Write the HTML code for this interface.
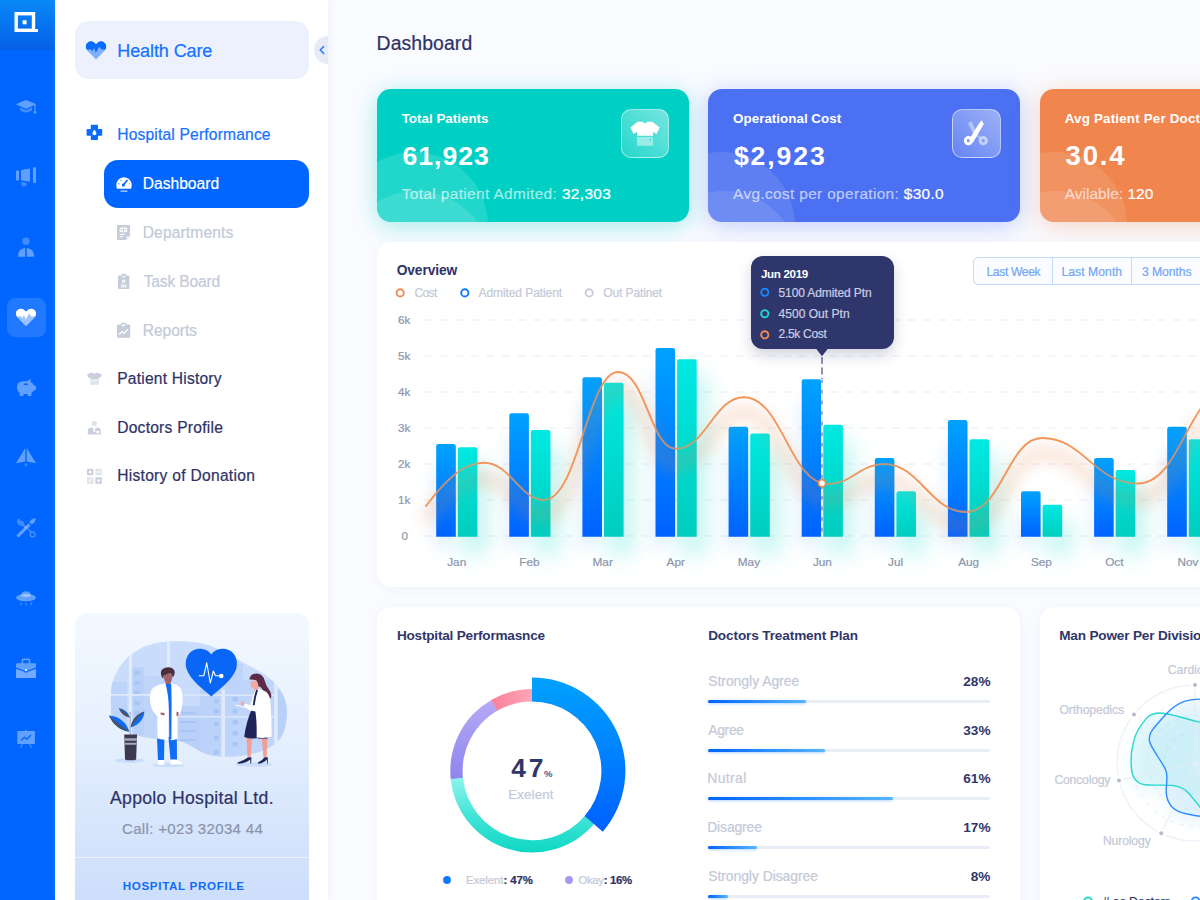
<!DOCTYPE html>
<html><head><meta charset="utf-8"><title>Dashboard</title>
<style>
*{box-sizing:border-box;margin:0;padding:0}
html,body{width:1200px;height:900px;overflow:hidden}
body{font-family:"Liberation Sans",sans-serif;background:#fafbff;position:relative;color:#2e3267}
.a{position:absolute}
.t{position:absolute;white-space:nowrap;line-height:1;-webkit-text-stroke:.22px}
.b{-webkit-text-stroke:0;font-weight:700}
svg{position:absolute;overflow:visible}
</style></head><body>
<div class="a" style="left:0;top:0;width:55px;height:900px;background:#0066ff"></div>
<div class="a" style="left:0;top:0;width:55px;height:50px;background:linear-gradient(180deg,#0888f6 0%,#0672f0 55%,#0560e6 100%)"></div>
<svg style="left:0;top:0" width="55" height="50" viewBox="0 0 55 50">
<rect x="16.2" y="13.7" width="17.3" height="16.6" fill="none" stroke="#fff" stroke-width="3.4"/>
<rect x="22.6" y="20.3" width="4" height="4" fill="#fff"/>
<rect x="35" y="29" width="3" height="3" fill="#fff"/>
</svg>
<svg style="left:0;top:0" width="55" height="900" viewBox="0 0 55 900">
<!-- grad cap -->
<path d="M15.7 104.3 L26 100 L36.3 104.3 L26 108.7 Z" fill="rgba(255,255,255,.38)"/>
<path d="M20 107.3 L26 109.9 L32 107.3 L32 110.6 Q26 114.6 20 110.6 Z" fill="rgba(255,255,255,.25)"/>
<rect x="34.4" y="105" width="1.2" height="5" fill="rgba(255,255,255,.38)"/><rect x="33.9" y="110.6" width="2.2" height="3" fill="rgba(255,255,255,.38)"/>
<!-- megaphone -->
<rect x="16" y="170.4" width="3" height="10" rx=".6" fill="rgba(255,255,255,.38)"/>
<path d="M21 170 L30 168.4 L30 181.8 L21 180.3 Z" fill="rgba(255,255,255,.38)"/>
<rect x="33" y="167.3" width="3" height="15.8" rx=".8" fill="rgba(255,255,255,.38)"/>
<path d="M21 182 L26.5 182.8 L26.5 186 L22 186.6 Z" fill="rgba(255,255,255,.25)"/>
<!-- person -->
<circle cx="26" cy="241.3" r="3.7" fill="rgba(255,255,255,.25)"/>
<path d="M18 256.7 Q18 248.6 25.2 248 L25.2 256.7 Z M26.8 248 Q34 248.6 34 256.7 L26.8 256.7 Z" fill="rgba(255,255,255,.38)"/>
<!-- active box -->
<rect x="7" y="298" width="39" height="39.3" rx="8.5" fill="rgba(255,255,255,.13)"/>
<clipPath id="hc1"><path d="M26 326.2 L17.4 317.4 Q14.8 313.6 17 310.6 Q19.4 307.8 23 309.2 Q25 310.2 26 311.8 Q27 310.2 29 309.2 Q32.6 307.8 35 310.6 Q37.2 313.6 34.6 317.4 Z"/></clipPath>
<g clip-path="url(#hc1)"><rect x="14" y="305" width="24" height="24" fill="rgba(255,255,255,.55)"/>
<path d="M14 304 H38 V316.6 L31.2 316.6 L29 313.6 L25.8 319.8 L24 315 L22.5 318.2 L21.4 316.6 L14 316.6 Z" fill="#fff"/></g>
<!-- piggy -->
<path d="M17 388 Q16 382 23 381.2 L27 381.2 L30.6 379 L30.6 382 Q33.4 383.4 34 385.6 L36 386 L36 389.6 L34 390.2 Q33 392 31.4 393 L31.4 396 L28 396 L27.6 394 L23.6 394 L23.2 396 L19.8 396 L19.6 393 Q17.4 391.4 17 388 Z" fill="rgba(255,255,255,.38)"/>
<rect x="23.6" y="383.6" width="4.4" height="1.3" rx=".6" fill="#0066ff"/>
<!-- plane -->
<path d="M16 463.3 L25.3 448 L25.3 461.6 Z" fill="rgba(255,255,255,.38)"/>
<path d="M36 463.3 L26.7 448 L26.7 461.6 Z" fill="rgba(255,255,255,.38)"/>
<path d="M24.4 463.4 L27.6 463.4 L26 467.4 Z" fill="rgba(255,255,255,.25)"/>
<!-- tools -->
<path d="M16.4 535.6 L28.4 523.6 L30.6 525.8 L18.6 537.6 Z" fill="rgba(255,255,255,.38)"/>
<path d="M29.4 522.6 L31.4 519.4 L36 518 L34.4 522.4 L31.6 524.6 Z" fill="rgba(255,255,255,.38)"/>
<path d="M17 520 L19 518 L21 521 L23.4 521.6 L24.4 524.4 L27.4 527.4 L25.6 529 L22.8 526 L19.4 525.4 L17 523 Z" fill="rgba(255,255,255,.25)"/>
<circle cx="32.6" cy="534.4" r="2.4" fill="none" stroke="rgba(255,255,255,.25)" stroke-width="1.6"/>
<path d="M28 529 L31 532" stroke="rgba(255,255,255,.25)" stroke-width="1.6"/>
<!-- ufo -->
<ellipse cx="26" cy="597.6" rx="10" ry="3.6" fill="rgba(255,255,255,.38)"/>
<path d="M21 596 Q21 591.2 26 591.2 Q31 591.2 31 596 Q26 598 21 596 Z" fill="rgba(255,255,255,.38)"/>
<rect x="20.2" y="602.4" width="1.4" height="2.6" fill="rgba(255,255,255,.25)"/><rect x="25.3" y="603" width="1.4" height="2.4" fill="rgba(255,255,255,.25)"/><rect x="30.4" y="602.4" width="1.4" height="2.6" fill="rgba(255,255,255,.25)"/>
<!-- briefcase -->
<path d="M22.4 663.4 L22.4 660.6 Q22.4 659.4 23.6 659.4 L28.4 659.4 Q29.6 659.4 29.6 660.6 L29.6 663.4" fill="none" stroke="rgba(255,255,255,.38)" stroke-width="1.6"/>
<path d="M16 664.4 Q16 663.2 17.2 663.2 L34.8 663.2 Q36 663.2 36 664.4 L36 667.6 L27.6 670.4 L24.4 670.4 L16 667.6 Z" fill="rgba(255,255,255,.38)"/>
<path d="M16 669 L24.4 671.8 L24.4 672.6 L27.6 672.6 L27.6 671.8 L36 669 L36 678 L16 678 Z" fill="rgba(255,255,255,.45)"/>
<circle cx="26" cy="670.2" r="1.1" fill="#e8f0ff"/>
<!-- board -->
<rect x="25.3" y="729.6" width="1.4" height="2" fill="rgba(255,255,255,.25)"/>
<rect x="17.3" y="731" width="17.6" height="13" rx=".8" fill="rgba(255,255,255,.38)"/>
<path d="M20.6 747.6 L22.4 744 M31.4 747.6 L29.6 744" stroke="rgba(255,255,255,.25)" stroke-width="1.4"/>
<path d="M21 740.4 L24.4 737.4 L27 739.2 L31 735" stroke="#0066ff" stroke-width="1.4" fill="none"/>
</svg>
<div class="a" style="left:55px;top:0;width:273px;height:900px;background:#fff;box-shadow:1px 0 6px rgba(190,200,230,.18)"></div>
<div class="a" style="left:314px;top:36px;width:28px;height:28px;border-radius:14px;background:#e6ebf6;clip-path:inset(0 14px 0 0)"></div>
<svg style="left:316px;top:43px" width="12" height="14" viewBox="0 0 12 14"><path d="M7.6 3.6 L4.2 7 L7.6 10.4" fill="none" stroke="#2f7bff" stroke-width="1.5" stroke-linecap="round" stroke-linejoin="round"/></svg>
<div class="a" style="left:75px;top:21px;width:234px;height:58px;border-radius:14px;background:#edf1fe"></div>
<svg style="left:84px;top:38px" width="24" height="24" viewBox="84 38 24 24">
<clipPath id="hc2"><path d="M96 59.6 L87.2 50.6 Q84.6 46.6 86.8 43.4 Q89.4 40.4 93 41.8 Q95 42.8 96 44.6 Q97 42.8 99 41.8 Q102.6 40.4 105.2 43.4 Q107.4 46.6 104.8 50.6 Z"/></clipPath>
<g clip-path="url(#hc2)"><rect x="84" y="38" width="24" height="24" fill="#7fb0ff"/>
<path d="M84 38 H108 V49.6 L101.4 49.6 L99.2 46.4 L95.8 53 L94 47.8 L92.4 51.4 L91.2 49.6 L84 49.6 Z" fill="#0a6cff"/></g>
</svg>
<div class="t" style="left:117.3px;top:42px;font-size:18px;color:#1672ff;letter-spacing:-0.1px;">Health Care</div>
<svg style="left:86px;top:124px" width="17" height="17" viewBox="86 124 17 17">
<path d="M91.6 124.8 L97.2 124.8 Q98 124.8 98 125.6 L98 129 L101.4 129 Q102.2 129 102.2 129.8 L102.2 135 Q102.2 135.8 101.4 135.8 L98 135.8 L98 139.2 Q98 140 97.2 140 L91.6 140 Q90.8 140 90.8 139.2 L90.8 135.8 L87.4 135.8 Q86.6 135.8 86.6 135 L86.6 129.8 Q86.6 129 87.4 129 L90.8 129 L90.8 125.6 Q90.8 124.8 91.6 124.8 Z" fill="#0a6cff"/>
<path d="M94.4 129.6 Q96.4 132.4 96.4 133.4 Q96.4 135.2 94.4 135.2 Q92.4 135.2 92.4 133.4 Q92.4 132.4 94.4 129.6 Z" fill="#fff"/>
</svg>
<div class="t" style="left:117.2px;top:127px;font-size:15.6px;color:#1672ff;letter-spacing:0.18px;">Hospital Performance</div>
<div class="a" style="left:104px;top:160px;width:205px;height:48px;border-radius:14px;background:#0066ff"></div>
<svg style="left:115px;top:176px" width="18" height="17" viewBox="115 176 18 17">
<path d="M116.6 188 Q115.4 182 119.4 178.8 Q124 175.6 128.6 178.8 Q132.6 182 131.4 188 Q131.2 188.8 130.4 188.8 L117.6 188.8 Q116.8 188.8 116.6 188 Z" fill="#fff"/>
<path d="M123.2 185 L127 180.4" stroke="#0066ff" stroke-width="1.6" stroke-linecap="round"/>
<circle cx="123.4" cy="185" r="1.5" fill="#0066ff"/>
<path d="M118.4 183.6 L119.6 184 M120.6 180 L121.4 181 M128.8 184 L129.6 183.6" stroke="#0066ff" stroke-width=".9"/>
<rect x="120.4" y="190.6" width="7.2" height="1.2" rx=".6" fill="rgba(255,255,255,.75)"/>
</svg>
<div class="t" style="left:142.7px;top:176px;font-size:15.6px;color:#fff;letter-spacing:0.01px;">Dashboard</div>
<svg style="left:116px;top:224px" width="16" height="17" viewBox="116 224 16 17">
<path d="M117.8 225 L129.2 225 Q130 225 130 225.8 L130 236 L126 240 L117.8 240 Q117 240 117 239.2 L117 225.8 Q117 225 117.8 225 Z" fill="#c5ccda"/>
<path d="M126 240 L126 236.6 Q126 236 126.6 236 L130 236 Z" fill="#e3e7f0"/>
<rect x="119.6" y="227.6" width="7.8" height="4.6" rx="1.6" fill="#fff"/><rect x="123.1" y="227.6" width=".8" height="4.6" fill="#c5ccda"/><rect x="119.6" y="229.5" width="7.8" height=".8" fill="#c5ccda"/>
<rect x="119.6" y="234" width="5" height="1" fill="#fff"/><rect x="119.6" y="236.2" width="3.4" height="1" fill="#fff"/>
</svg>
<div class="t" style="left:142.7px;top:225px;font-size:15.6px;color:#c3cad9;letter-spacing:0.13px;">Departments</div>
<svg style="left:117px;top:273px" width="14" height="17" viewBox="117 273 14 17">
<rect x="118" y="275.4" width="11.4" height="13.6" rx="1" fill="#c5ccda"/>
<rect x="121.4" y="273.8" width="4.6" height="3.4" rx=".8" fill="#c5ccda"/>
<rect x="122.2" y="275.8" width="3" height="1.4" fill="#fff"/>
<circle cx="123.7" cy="281.2" r="1.7" fill="#fff"/><circle cx="123.7" cy="281.2" r=".7" fill="#c5ccda"/>
<rect x="120.8" y="284.6" width="5.8" height="1" fill="#fff"/><rect x="120.8" y="286.4" width="5.8" height="1" fill="#fff"/>
</svg>
<div class="t" style="left:143.7px;top:274px;font-size:15.6px;color:#c3cad9;letter-spacing:-0.17px;">Task Board</div>
<svg style="left:116px;top:322px" width="16" height="17" viewBox="116 322 16 17">
<rect x="117" y="324.4" width="13.2" height="13.4" rx="1" fill="#c5ccda"/>
<rect x="121" y="322.8" width="5.2" height="3.6" rx=".8" fill="#c5ccda"/>
<rect x="122" y="324.6" width="3.2" height="1.6" fill="#fff"/>
<path d="M119 334.8 L122 331.6 L124 333.2 L128 329.2" stroke="#fff" stroke-width="1.3" fill="none"/>
</svg>
<div class="t" style="left:142.7px;top:323px;font-size:15.6px;color:#c3cad9;letter-spacing:-0.05px;">Reports</div>
<svg style="left:86px;top:371px" width="17" height="15" viewBox="86 371 17 15">
<path d="M91.4 372.4 Q94.5 374.4 97.6 372.4 L102 374.4 L100.6 377.8 L98.8 377.2 L98.8 379.4 L90.2 379.4 L90.2 377.2 L88.4 377.8 L87 374.4 Z" fill="#c9cfdc"/>
<rect x="90.2" y="380.4" width="8.6" height="4.4" fill="#dfe3ec"/>
</svg>
<div class="t" style="left:117.2px;top:371px;font-size:15.6px;color:#2e3267;letter-spacing:0.21px;">Patient History</div>
<svg style="left:86px;top:419px" width="17" height="17" viewBox="86 419 17 17">
<circle cx="94.3" cy="423.6" r="2.7" fill="#dfe3ec"/>
<path d="M87.8 434.6 L87.8 430.6 Q87.8 428.2 90.6 427.8 L92.6 427.6 L94.3 430.4 L96 427.6 L98 427.8 Q100.8 428.2 100.8 430.6 L100.8 434.6 Z" fill="#c9cfdc"/>
<path d="M93.6 428 L95 428 L95.2 431.4 L94.3 432.6 L93.4 431.4 Z" fill="#fff"/>
<rect x="96.2" y="431" width="3" height="2.2" fill="#fff"/>
</svg>
<div class="t" style="left:117.2px;top:420px;font-size:15.6px;color:#2e3267;letter-spacing:0.24px;">Doctors Profile</div>
<svg style="left:86px;top:467px" width="17" height="18" viewBox="86 467 17 18">
<rect x="87" y="468.8" width="6.4" height="6.4" fill="#c9cfdc"/><rect x="89" y="470.8" width="2.4" height="2.4" fill="#fff"/>
<rect x="95.4" y="468.8" width="6.4" height="6.4" fill="#dfe3ec"/><rect x="96.8" y="471.4" width="3.6" height="1.2" fill="#fff"/>
<rect x="87" y="477.4" width="6.4" height="6.4" fill="#dfe3ec"/><path d="M88.8 482 L91.6 479.2" stroke="#fff" stroke-width="1.2"/>
<rect x="95.4" y="477.4" width="6.4" height="6.4" fill="#c9cfdc"/><rect x="97.4" y="479.4" width="2.4" height="2.4" fill="#fff"/>
</svg>
<div class="t" style="left:117.2px;top:468px;font-size:15.6px;color:#2e3267;letter-spacing:0.28px;">History of Donation</div>
<div class="a" style="left:75px;top:612.6px;width:234px;height:300px;border-radius:13px;background:linear-gradient(180deg,#f3f9ff 0%,#e6f0fe 40%,#d5e4fc 75%,#cbddfb 100%)"></div>
<div class="a" style="left:75px;top:857px;width:234px;height:1px;background:rgba(255,255,255,.55)"></div>
<svg style="left:0;top:0" width="330" height="900" viewBox="0 0 330 900">
<defs><clipPath id="bc"><path d="M111 693 C112 672 126 654 146 646 C160 640.4 180 640 200 643 C214 645.4 226 653 243 662.6 C256 669.6 268 674 278 687 C285 696 288 706 286.6 718 C285 731 282 738 275.6 743.4 C262 753.6 240 757.4 221.6 756.4 C210 755.8 205 753.6 199 750.4 C192 746.6 186 742 178 741 C165 739.4 152 738.6 141.4 736.4 C128 733.6 114 728 111.6 716 C110.4 708 110.6 700 111 693 Z"/></clipPath></defs>
<path d="M111 693 C112 672 126 654 146 646 C160 640.4 180 640 200 643 C214 645.4 226 653 243 662.6 C256 669.6 268 674 278 687 C285 696 288 706 286.6 718 C285 731 282 738 275.6 743.4 C262 753.6 240 757.4 221.6 756.4 C210 755.8 205 753.6 199 750.4 C192 746.6 186 742 178 741 C165 739.4 152 738.6 141.4 736.4 C128 733.6 114 728 111.6 716 C110.4 708 110.6 700 111 693 Z" fill="#c9dcfb"/>
<g clip-path="url(#bc)">
<!-- buildings -->
<rect x="111" y="682" width="16" height="60" fill="#bdd3f9"/>
<rect x="132.4" y="667.4" width="11.8" height="72" fill="#b9d0f8"/>
<rect x="134.6" y="671" width="5" height="4" fill="#a9c5f6"/><rect x="134.6" y="681" width="5" height="4" fill="#a9c5f6"/><rect x="134.6" y="691" width="5" height="4" fill="#a9c5f6"/><rect x="134.6" y="701" width="5" height="4" fill="#a9c5f6"/><rect x="134.6" y="711" width="5" height="4" fill="#a9c5f6"/>
<rect x="144" y="676" width="24" height="64" fill="#c0d5fa"/>
<rect x="178" y="706" width="22" height="50" fill="#b9d0f8"/>
<rect x="180" y="712" width="16" height="2" fill="#a9c5f6"/><rect x="180" y="721" width="16" height="2" fill="#a9c5f6"/><rect x="180" y="730" width="16" height="2" fill="#a9c5f6"/><rect x="180" y="739" width="16" height="2" fill="#a9c5f6"/>
<rect x="200" y="690" width="21.4" height="70" fill="#bcd2f9"/>
<rect x="214" y="699" width="5" height="4.4" fill="#a9c5f6"/><rect x="214" y="709" width="5" height="4.4" fill="#a9c5f6"/><rect x="214" y="722" width="5" height="4.4" fill="#a9c5f6"/><rect x="214" y="736" width="5" height="4.4" fill="#a9c5f6"/><rect x="214" y="750" width="5" height="4.4" fill="#a9c5f6"/>
<rect x="225" y="664" width="18" height="96" fill="#bed4fa"/>
<rect x="232.6" y="697" width="5" height="4.4" fill="#a9c5f6"/><rect x="232.6" y="709" width="5" height="4.4" fill="#a9c5f6"/><rect x="232.6" y="720" width="5" height="4.4" fill="#a9c5f6"/><rect x="232.6" y="731" width="5" height="4.4" fill="#a9c5f6"/><rect x="232.6" y="742" width="5" height="4.4" fill="#a9c5f6"/>
<rect x="243" y="680" width="31" height="76" fill="#c0d5fa"/>
<rect x="277.6" y="690" width="10" height="56" fill="#b9d0f8"/>
<!-- window frames -->
<rect x="128.8" y="640" width="3.2" height="100" fill="#e0ebfd"/>
<rect x="167" y="640" width="3.2" height="44" fill="#e0ebfd"/>
<rect x="221.4" y="690" width="3.6" height="70" fill="#dfeafd"/>
<rect x="274.2" y="676" width="3.4" height="72" fill="#dfeafd"/>
<rect x="108" y="694" width="58" height="1.8" fill="#dfeafd"/>
<rect x="184" y="694.4" width="90" height="1.6" fill="#d9e6fc"/>
<rect x="178" y="716" width="96" height="1.6" fill="#d9e6fc"/>
</g>
<!-- shadows -->
<ellipse cx="130" cy="760.6" rx="15" ry="2.4" fill="#c9dcfa"/>
<ellipse cx="168.4" cy="765" rx="16" ry="2.2" fill="#c9dcfa"/>
<ellipse cx="254" cy="764.6" rx="19" ry="2.2" fill="#c9dcfa"/>
<!-- plant -->
<path d="M129.6 735 L129.6 712 L130.8 712 L130.8 735 Z" fill="#a9afc2"/>
<path d="M129.4 731.6 C121 731 113 725 109 715.6 C118 716 126 721.6 129.4 731.6 Z" fill="#0f6cf5"/>
<path d="M129.4 731.6 C121 731 113 725 109 715.6 C116 722 123 727 129.4 731.6 Z" fill="#49536f"/>
<path d="M130.8 727.6 C131.4 720 137 714 144.4 711.6 C144 719 139 725 130.8 727.6 Z" fill="#0f6cf5"/>
<path d="M130.8 727.6 C131.4 720 137 714 144.4 711.6 C139 717 134.6 722.4 130.8 727.6 Z" fill="#49536f"/>
<path d="M129.8 717.6 C125 717 121 713.6 118.8 708.6 C124 709 128 712.4 129.8 717.6 Z" fill="#49536f"/>
<path d="M129.8 717.6 C127.6 713.6 124 710.6 118.8 708.6 C124 709 128 712.4 129.8 717.6 Z" fill="#0f6cf5"/>
<path d="M124.2 734.4 L137 734.4 L136.2 758.6 Q136.1 760.2 134.6 760.2 L126.6 760.2 Q125.1 760.2 125 758.6 Z" fill="#3b3a50"/>
<path d="M124.3 738.2 L136.9 738.2 L136.8 740.8 L124.4 740.8 Z" fill="#a7a8b8"/>
<path d="M124.5 742.8 L136.7 742.8 L136.65 744.8 L124.55 744.8 Z" fill="#a7a8b8"/>
<!-- male doctor -->
<path d="M157 737 L164.4 737 L164 760.6 L158 760.6 L157.4 748 Z" fill="#0f6cf5"/>
<path d="M168.4 737 L176.8 737 L177 760.2 L170.6 760.2 Z" fill="#0f6cf5"/>
<path d="M158 760 L164.2 760 L164.2 764.6 Q161 765.6 157.8 764.6 Z" fill="#fff"/>
<path d="M170.4 759.6 L176.8 759.6 Q180 761.6 182.4 763 L182.4 764.4 L170.4 764.4 Z" fill="#fff"/>
<path d="M165.8 681 L170.4 681 L170.6 686 L165.6 686 Z" fill="#9a5d63"/>
<path d="M163.6 673.6 Q163.4 683.6 168.4 683.8 Q172.4 683.4 172.4 674 Z" fill="#a0616a"/>
<path d="M161 674.6 Q160.2 669.4 164.6 668 Q169 666.4 172.6 668.6 Q175.6 670.6 174.4 674.6 Q173.6 677 172.6 677.6 Q172.6 674 170.4 673.4 Q166.4 673.6 163.6 675.4 Q163.6 677.4 163 678.4 Q161.4 677 161 674.6 Z" fill="#4a2e3c"/>
<path d="M164.4 683.6 Q158 684.6 153.6 687.6 Q150.4 690 150 696 Q149.6 704 152.8 711 L157.4 716.6 L157.6 738.6 Q163 740.4 168.4 740 L168.6 700 L166 684 Z" fill="#fff"/>
<path d="M171.6 683.6 Q177 684.4 180 687.4 Q182.4 690 182.6 697 Q182.8 706 180.4 713.6 L177.6 717 L177.4 739 Q173 740.6 170.4 740 L169.6 700 L170.6 684 Z" fill="#fff"/>
<path d="M165.6 684 L171.2 684 L171.6 700 L171.4 739 L169.4 739.6 L169 710 Q168.6 694 165.6 684 Z" fill="#0f6cf5"/>
<path d="M160.6 712.4 L164.6 713 L164.4 715.4 L160.6 714.6 Z" fill="#a0616a"/>
<path d="M176.6 711.6 L178.8 712.6 L178 716.4 L176.4 715.4 Z" fill="#a0616a"/>
<path d="M157.4 716.6 L157.6 738.6" stroke="#e6ecf7" stroke-width=".8"/>
<!-- heart -->
<path d="M211.3 696.4 C204 690 190 680 186.6 669 C183.6 658 190 649.6 198.4 648.8 C204 648.4 208.6 650.6 211.3 654.4 C214 650.6 218.6 648.4 224.2 648.8 C232.6 649.6 239.4 658 236.2 669 C232.6 680 218.6 690 211.3 696.4 Z" fill="#0a66f5"/>
<path d="M199.2 675.8 L203.8 675.8 L206.7 662.8 L210.3 683 L213.4 671 L215.4 675.8 L219 675.8" fill="none" stroke="#fff" stroke-width="1.1" stroke-linejoin="round" stroke-linecap="round"/>
<circle cx="221.3" cy="676" r="2.3" fill="#fff"/>
<!-- female doctor -->
<path d="M246.4 737 L252 737 L250.6 758.6 L247.6 758.6 Z" fill="#f0a097"/>
<path d="M261.6 737 L267.4 737 L266.6 758.6 L263.6 758.6 Z" fill="#f0a097"/>
<path d="M237.6 762.6 Q244 760.4 248 757.6 L251.4 757.2 L251.2 763.4 L250.4 763.4 L250.2 759.6 Q246 763.4 237.8 763.8 Z" fill="#1f2559"/>
<path d="M258 762.6 Q262 761 264.4 757.6 L267.8 757.2 L267.8 763.4 L267 763.4 L266.8 759.6 Q263.6 763.4 258 763.8 Z" fill="#1f2559"/>
<path d="M252.6 707 L258.6 707 L258 738 Q251 739.4 244.2 737 Q246 722 252.6 707 Z" fill="#1f2559"/>
<path d="M258 736.4 L267.4 736.4 L267.4 738.6 L258 738.6 Z" fill="#1f2559"/>
<path d="M251.4 681 Q250 685 251.6 687.6 L254 688.4 L254.4 691 L258.4 690.4 L258.8 681 Z" fill="#f4a9a0"/>
<path d="M249.4 679.6 Q250 673.6 256.6 673.6 Q263 674 264.6 680.6 Q266 686 269.6 690.6 Q272.4 695 270.6 698.6 Q266 696.6 263.4 691.4 Q261 686 258.4 686.6 Q258.6 683 256.4 680.4 Q252.4 679.2 249.4 679.6 Z" fill="#5b2b48"/>
<path d="M256 689.4 Q262 688.6 266.4 692 Q270 695 270.6 704 Q271.8 720 271.6 736.6 Q265 738.6 256.6 737.6 Q257 722 255.4 711.6 L250 710.4 L243.6 706.4 L244.6 703.4 L250.6 705.2 Q252 696 256 689.4 Z" fill="#fff"/>
<path d="M256.4 689.4 L258 690 Q255.6 697 254.6 705.4 L252.8 705 Q253.6 696 256.4 689.4 Z" fill="#1f2559"/>
<path d="M240.8 701 L243.2 701.4 L244.6 703.6 L243.6 706 L241 704.6 Z" fill="#f4a9a0"/>
<path d="M235.8 704.6 L245 707.2 L244.8 708 L235.6 705.4 Z" fill="#fff"/>
</svg>
<div class="t" style="left:110.0px;top:790px;font-size:17.6px;color:#2e3267;letter-spacing:0.32px;">Appolo Hospital Ltd.</div>
<div class="t" style="left:122.0px;top:821px;font-size:15px;color:#8b94ad;letter-spacing:0.34px;">Call: +023 32034 44</div>
<div class="t b" style="left:122.7px;top:880px;font-size:11.6px;color:#0f6cfb;letter-spacing:0.68px;">HOSPITAL PROFILE</div>
<div class="t" style="left:376.6px;top:34px;font-size:19.4px;color:#2e3267;letter-spacing:0.09px;">Dashboard</div>
<div class="a" style="left:377px;top:89.4px;width:311.6px;height:132.2px;border-radius:14px;background:#00d0c4;box-shadow:0 4px 24px rgba(0,208,196,.36);overflow:hidden"><div class="a" style="left:-36.5px;top:62.6px;width:147px;height:147px;border-radius:50%;background:rgba(255,255,255,.13)"></div><div class="a" style="left:-35.8px;top:101.6px;width:150.8px;height:150.8px;border-radius:50%;background:rgba(255,255,255,.13)"></div></div>
<div class="a" style="left:620.6px;top:109px;width:48.6px;height:49px;border-radius:10px;background:linear-gradient(225deg,rgba(255,255,255,.46),rgba(255,255,255,.15));border:1px solid rgba(255,255,255,.5)"></div>
<svg style="left:629px;top:120px" width="32" height="27" viewBox="629 120 32 27">
<path d="M637.6 121.7 L642.6 121.7 Q645 124.6 647.4 121.7 L652.4 121.7 L659.6 127.6 L656.6 134 L653 132 L653 135.8 L637 135.8 L637 132 L633.4 134 L630.4 127.6 Z" fill="#fff"/>
<path d="M637 137 L653 137 L653 145.8 L637 145.8 Z" fill="rgba(255,255,255,.45)"/>
<path d="M649 139.6 L651.2 141.4 L651.2 138 Z" fill="rgba(0,200,190,.55)"/>
</svg>
<div class="t b" style="left:401.7px;top:112px;font-size:13.4px;color:#fff;">Total Patients</div>
<div class="t b" style="left:402.5px;top:143px;font-size:26.6px;color:#fff;letter-spacing:0.99px;">61,923</div>
<div class="t" style="left:401.7px;top:186px;font-size:15.4px;color:rgba(255,255,255,.6);letter-spacing:0.38px;">Total patient Admited: <span style="color:#fff">32,303</span></div>
<div class="a" style="left:708.4px;top:89.4px;width:311.6px;height:132.2px;border-radius:14px;background:#4b70f1;box-shadow:0 4px 24px rgba(75,112,241,.33);overflow:hidden"><div class="a" style="left:-60.5px;top:62.6px;width:147px;height:147px;border-radius:50%;background:rgba(255,255,255,.105)"></div><div class="a" style="left:-59.8px;top:101.6px;width:150.8px;height:150.8px;border-radius:50%;background:rgba(255,255,255,.105)"></div></div>
<div class="a" style="left:952.0px;top:109px;width:48.6px;height:49px;border-radius:10px;background:linear-gradient(225deg,rgba(255,255,255,.46),rgba(255,255,255,.15));border:1px solid rgba(255,255,255,.5)"></div>
<svg style="left:960px;top:118px" width="32" height="32" viewBox="960 118 32 32">
<path d="M968 123.6 L971.4 121.2 L976 130.4 L973.6 134.4 Z" fill="rgba(255,255,255,.42)"/>
<path d="M976.4 135.4 L980.6 138.2" stroke="rgba(255,255,255,.3)" stroke-width="2.6"/>
<circle cx="983.3" cy="140.7" r="3.1" fill="none" stroke="rgba(255,255,255,.55)" stroke-width="3"/>
<path d="M979.4 122.8 L981.8 120.2 L983.8 124 L973 142.6 L968.8 140.2 Z" fill="#fff"/>
<circle cx="968.4" cy="140.7" r="3.1" fill="none" stroke="#fff" stroke-width="3"/>
</svg>
<div class="t b" style="left:733.1px;top:112px;font-size:13.4px;color:#fff;letter-spacing:0.01px;">Operational Cost</div>
<div class="t b" style="left:733.9px;top:143px;font-size:26.6px;color:#fff;letter-spacing:1.89px;">$2,923</div>
<div class="t" style="left:733.1px;top:186px;font-size:15.4px;color:rgba(255,255,255,.6);letter-spacing:0.35px;">Avg.cost per operation: <span style="color:#fff">$30.0</span></div>
<div class="a" style="left:1040px;top:89.4px;width:311.6px;height:132.2px;border-radius:14px;background:#f0864e;box-shadow:0 4px 24px rgba(240,134,78,.33);overflow:hidden"><div class="a" style="left:-60.5px;top:62.6px;width:147px;height:147px;border-radius:50%;background:rgba(255,255,255,.11)"></div><div class="a" style="left:-59.8px;top:101.6px;width:150.8px;height:150.8px;border-radius:50%;background:rgba(255,255,255,.11)"></div></div>
<div class="a" style="left:1283.6px;top:109px;width:48.6px;height:49px;border-radius:10px;background:linear-gradient(225deg,rgba(255,255,255,.46),rgba(255,255,255,.15));border:1px solid rgba(255,255,255,.5)"></div>

<div class="t b" style="left:1064.7px;top:112px;font-size:13.4px;color:#fff;letter-spacing:0.18px;">Avg Patient Per Doctor</div>
<div class="t b" style="left:1065.5px;top:142px;font-size:27.6px;color:#fff;letter-spacing:1.81px;">30.4</div>
<div class="t" style="left:1064.7px;top:186px;font-size:15.4px;color:rgba(255,255,255,.6);letter-spacing:0.06px;">Avilable: <span style="color:#fff">120</span></div>
<div class="a" style="left:377px;top:241.6px;width:900px;height:345.6px;border-radius:14px;background:#fff;box-shadow:0 2px 10px rgba(205,212,236,.22)"></div>
<div class="t b" style="left:396.7px;top:264px;font-size:13.8px;color:#2e3267;letter-spacing:-0.12px;">Overview</div>
<svg style="left:0;top:0" width="1200" height="900" viewBox="0 0 1200 900">
<circle cx="400.2" cy="292.9" r="3.6" fill="#fff" stroke="#f08a52" stroke-width="1.9"/>
<circle cx="464.8" cy="292.9" r="3.6" fill="#fff" stroke="#0a78ff" stroke-width="1.9"/>
<circle cx="589.2" cy="292.9" r="3.6" fill="#fff" stroke="#c7cddb" stroke-width="1.9"/>
</svg>
<div class="t" style="left:414.5px;top:287px;font-size:12px;color:#c3c9d8;letter-spacing:-0.61px;">Cost</div>
<div class="t" style="left:478.5px;top:287px;font-size:12px;color:#c3c9d8;letter-spacing:-0.08px;">Admited Patient</div>
<div class="t" style="left:603.3px;top:287px;font-size:12px;color:#c3c9d8;letter-spacing:-0.12px;">Out Patinet</div>
<div class="t" style="left:398.0px;top:314px;font-size:11.6px;color:#8e96ae;">6k</div>
<div class="t" style="left:398.0px;top:350px;font-size:11.6px;color:#8e96ae;">5k</div>
<div class="t" style="left:398.0px;top:386px;font-size:11.6px;color:#8e96ae;">4k</div>
<div class="t" style="left:398.0px;top:422px;font-size:11.6px;color:#8e96ae;">3k</div>
<div class="t" style="left:398.0px;top:458px;font-size:11.6px;color:#8e96ae;">2k</div>
<div class="t" style="left:398.0px;top:494px;font-size:11.6px;color:#8e96ae;">1k</div>
<div class="t" style="left:401.5px;top:530px;font-size:11.6px;color:#8e96ae;">0</div>
<div class="a" style="left:972.6px;top:256.6px;width:260px;height:28px;border-radius:5px;border:1px solid #c3daff;background:#fbfcff"></div>
<div class="a" style="left:1051.6px;top:257px;width:1px;height:27px;background:#c3daff"></div>
<div class="a" style="left:1131.4px;top:257px;width:1px;height:27px;background:#c3daff"></div>
<div class="t" style="left:986.4px;top:266px;font-size:12.2px;color:#74a9f5;letter-spacing:-0.38px;">Last Week</div>
<div class="t" style="left:1061.4px;top:266px;font-size:12.2px;color:#74a9f5;letter-spacing:0.05px;">Last Month</div>
<div class="t" style="left:1142.0px;top:266px;font-size:12.2px;color:#74a9f5;letter-spacing:-0.09px;">3 Months</div>
<svg style="left:0;top:0" width="1200" height="900" viewBox="0 0 1200 900">
<defs>
<linearGradient id="gb" x1="0" y1="0" x2="0" y2="1" gradientUnits="objectBoundingBox"><stop offset="0" stop-color="#00a2ff"/><stop offset="1" stop-color="#0062ff"/></linearGradient>
<linearGradient id="gt" x1="0" y1="0" x2="0" y2="1"><stop offset="0" stop-color="#00e9e2"/><stop offset="1" stop-color="#00cdbe"/></linearGradient>
<filter id="bl8" x="-50%" y="-50%" width="200%" height="200%"><feGaussianBlur stdDeviation="8"/></filter>
<filter id="bl6" x="-50%" y="-50%" width="200%" height="200%"><feGaussianBlur stdDeviation="6"/></filter>
<filter id="bl10" x="-50%" y="-50%" width="200%" height="200%"><feGaussianBlur stdDeviation="11"/></filter>
<mask id="cm" maskUnits="userSpaceOnUse" x="400" y="300" width="820" height="260"><rect x="400" y="300" width="820" height="260" fill="#fff"/><path d="M436.2 536.8 L436.2 446.2 Q436.2 444.0 438.4 444.0 L453.6 444.0 Q455.8 444.0 455.8 446.2 L455.8 536.8 Z" fill="#c4c4c4"/><path d="M509.3 536.8 L509.3 415.4 Q509.3 413.2 511.5 413.2 L526.7 413.2 Q528.9 413.2 528.9 415.4 L528.9 536.8 Z" fill="#c4c4c4"/><path d="M582.4 536.8 L582.4 379.4 Q582.4 377.2 584.6 377.2 L599.8 377.2 Q602.0 377.2 602.0 379.4 L602.0 536.8 Z" fill="#c4c4c4"/><path d="M655.5 536.8 L655.5 350.2 Q655.5 348.0 657.7 348.0 L672.9 348.0 Q675.1 348.0 675.1 350.2 L675.1 536.8 Z" fill="#c4c4c4"/><path d="M728.6 536.8 L728.6 429.0 Q728.6 426.8 730.8 426.8 L746.0 426.8 Q748.2 426.8 748.2 429.0 L748.2 536.8 Z" fill="#c4c4c4"/><path d="M801.7 536.8 L801.7 381.4 Q801.7 379.2 803.9 379.2 L819.1 379.2 Q821.3 379.2 821.3 381.4 L821.3 536.8 Z" fill="#c4c4c4"/><path d="M874.8 536.8 L874.8 460.2 Q874.8 458.0 877.0 458.0 L892.2 458.0 Q894.4 458.0 894.4 460.2 L894.4 536.8 Z" fill="#c4c4c4"/><path d="M947.9 536.8 L947.9 422.2 Q947.9 420.0 950.1 420.0 L965.3 420.0 Q967.5 420.0 967.5 422.2 L967.5 536.8 Z" fill="#c4c4c4"/><path d="M1021.0 536.8 L1021.0 493.4 Q1021.0 491.2 1023.2 491.2 L1038.4 491.2 Q1040.6 491.2 1040.6 493.4 L1040.6 536.8 Z" fill="#c4c4c4"/><path d="M1094.1 536.8 L1094.1 460.2 Q1094.1 458.0 1096.3 458.0 L1111.5 458.0 Q1113.7 458.0 1113.7 460.2 L1113.7 536.8 Z" fill="#c4c4c4"/><path d="M1167.2 536.8 L1167.2 429.0 Q1167.2 426.8 1169.4 426.8 L1184.6 426.8 Q1186.8 426.8 1186.8 429.0 L1186.8 536.8 Z" fill="#c4c4c4"/><path d="M457.8 536.8 L457.8 449.4 Q457.8 447.2 460.0 447.2 L475.2 447.2 Q477.4 447.2 477.4 449.4 L477.4 536.8 Z" fill="#b8b8b8"/><path d="M530.9 536.8 L530.9 432.2 Q530.9 430.0 533.1 430.0 L548.3 430.0 Q550.5 430.0 550.5 432.2 L550.5 536.8 Z" fill="#b8b8b8"/><path d="M604.0 536.8 L604.0 385.0 Q604.0 382.8 606.2 382.8 L621.4 382.8 Q623.6 382.8 623.6 385.0 L623.6 536.8 Z" fill="#b8b8b8"/><path d="M677.1 536.8 L677.1 361.4 Q677.1 359.2 679.3 359.2 L694.5 359.2 Q696.7 359.2 696.7 361.4 L696.7 536.8 Z" fill="#b8b8b8"/><path d="M750.2 536.8 L750.2 435.8 Q750.2 433.6 752.4 433.6 L767.6 433.6 Q769.8 433.6 769.8 435.8 L769.8 536.8 Z" fill="#b8b8b8"/><path d="M823.3 536.8 L823.3 427.0 Q823.3 424.8 825.5 424.8 L840.7 424.8 Q842.9 424.8 842.9 427.0 L842.9 536.8 Z" fill="#b8b8b8"/><path d="M896.4 536.8 L896.4 493.4 Q896.4 491.2 898.6 491.2 L913.8 491.2 Q916.0 491.2 916.0 493.4 L916.0 536.8 Z" fill="#b8b8b8"/><path d="M969.5 536.8 L969.5 441.4 Q969.5 439.2 971.7 439.2 L986.9 439.2 Q989.1 439.2 989.1 441.4 L989.1 536.8 Z" fill="#b8b8b8"/><path d="M1042.6 536.8 L1042.6 507.0 Q1042.6 504.8 1044.8 504.8 L1060.0 504.8 Q1062.2 504.8 1062.2 507.0 L1062.2 536.8 Z" fill="#b8b8b8"/><path d="M1115.7 536.8 L1115.7 472.2 Q1115.7 470.0 1117.9 470.0 L1133.1 470.0 Q1135.3 470.0 1135.3 472.2 L1135.3 536.8 Z" fill="#b8b8b8"/><path d="M1188.8 536.8 L1188.8 441.4 Q1188.8 439.2 1191.0 439.2 L1206.2 439.2 Q1208.4 439.2 1208.4 441.4 L1208.4 536.8 Z" fill="#b8b8b8"/></mask>
<clipPath id="pc"><rect x="378" y="242" width="830" height="345"/></clipPath>
</defs>
<g clip-path="url(#pc)">
<path d="M424 320 H1200" stroke="#e9ecf4" stroke-width="1.2" stroke-dasharray="8 7.6"/><path d="M424 356 H1200" stroke="#e9ecf4" stroke-width="1.2" stroke-dasharray="8 7.6"/><path d="M424 392 H1200" stroke="#e9ecf4" stroke-width="1.2" stroke-dasharray="8 7.6"/><path d="M424 428 H1200" stroke="#e9ecf4" stroke-width="1.2" stroke-dasharray="8 7.6"/><path d="M424 464 H1200" stroke="#e9ecf4" stroke-width="1.2" stroke-dasharray="8 7.6"/><path d="M424 500 H1200" stroke="#e9ecf4" stroke-width="1.2" stroke-dasharray="8 7.6"/><path d="M424 536 H1200" stroke="#e9ecf4" stroke-width="1.2" stroke-dasharray="8 7.6"/>
<g filter="url(#bl10)" opacity=".26"><rect x="460.0" y="463.2" width="28" height="91.6" fill="#19dccd"/><rect x="533.1" y="446.0" width="28" height="108.8" fill="#19dccd"/><rect x="606.2" y="398.8" width="28" height="156.0" fill="#19dccd"/><rect x="679.3" y="375.2" width="28" height="179.6" fill="#19dccd"/><rect x="752.4" y="449.6" width="28" height="105.2" fill="#19dccd"/><rect x="825.5" y="440.8" width="28" height="114.0" fill="#19dccd"/><rect x="898.6" y="507.2" width="28" height="47.6" fill="#19dccd"/><rect x="971.7" y="455.2" width="28" height="99.6" fill="#19dccd"/><rect x="1044.8" y="520.8" width="28" height="34.0" fill="#19dccd"/><rect x="1117.9" y="486.0" width="28" height="68.8" fill="#19dccd"/><rect x="1191.0" y="455.2" width="28" height="99.6" fill="#19dccd"/></g>
<g filter="url(#bl8)" opacity=".16"><rect x="434.0" y="468.0" width="16" height="78.8" fill="#3a9cff"/><rect x="507.1" y="437.2" width="16" height="109.6" fill="#3a9cff"/><rect x="580.2" y="401.2" width="16" height="145.6" fill="#3a9cff"/><rect x="653.3" y="372.0" width="16" height="174.8" fill="#3a9cff"/><rect x="726.4" y="450.8" width="16" height="96.0" fill="#3a9cff"/><rect x="799.5" y="403.2" width="16" height="143.6" fill="#3a9cff"/><rect x="872.6" y="482.0" width="16" height="64.8" fill="#3a9cff"/><rect x="945.7" y="444.0" width="16" height="102.8" fill="#3a9cff"/><rect x="1018.8" y="515.2" width="16" height="31.6" fill="#3a9cff"/><rect x="1091.9" y="482.0" width="16" height="64.8" fill="#3a9cff"/><rect x="1165.0" y="450.8" width="16" height="96.0" fill="#3a9cff"/></g>
<path d="M436.2 536.8 L436.2 446.2 Q436.2 444.0 438.4 444.0 L453.6 444.0 Q455.8 444.0 455.8 446.2 L455.8 536.8 Z" fill="url(#gb)"/><path d="M509.3 536.8 L509.3 415.4 Q509.3 413.2 511.5 413.2 L526.7 413.2 Q528.9 413.2 528.9 415.4 L528.9 536.8 Z" fill="url(#gb)"/><path d="M582.4 536.8 L582.4 379.4 Q582.4 377.2 584.6 377.2 L599.8 377.2 Q602.0 377.2 602.0 379.4 L602.0 536.8 Z" fill="url(#gb)"/><path d="M655.5 536.8 L655.5 350.2 Q655.5 348.0 657.7 348.0 L672.9 348.0 Q675.1 348.0 675.1 350.2 L675.1 536.8 Z" fill="url(#gb)"/><path d="M728.6 536.8 L728.6 429.0 Q728.6 426.8 730.8 426.8 L746.0 426.8 Q748.2 426.8 748.2 429.0 L748.2 536.8 Z" fill="url(#gb)"/><path d="M801.7 536.8 L801.7 381.4 Q801.7 379.2 803.9 379.2 L819.1 379.2 Q821.3 379.2 821.3 381.4 L821.3 536.8 Z" fill="url(#gb)"/><path d="M874.8 536.8 L874.8 460.2 Q874.8 458.0 877.0 458.0 L892.2 458.0 Q894.4 458.0 894.4 460.2 L894.4 536.8 Z" fill="url(#gb)"/><path d="M947.9 536.8 L947.9 422.2 Q947.9 420.0 950.1 420.0 L965.3 420.0 Q967.5 420.0 967.5 422.2 L967.5 536.8 Z" fill="url(#gb)"/><path d="M1021.0 536.8 L1021.0 493.4 Q1021.0 491.2 1023.2 491.2 L1038.4 491.2 Q1040.6 491.2 1040.6 493.4 L1040.6 536.8 Z" fill="url(#gb)"/><path d="M1094.1 536.8 L1094.1 460.2 Q1094.1 458.0 1096.3 458.0 L1111.5 458.0 Q1113.7 458.0 1113.7 460.2 L1113.7 536.8 Z" fill="url(#gb)"/><path d="M1167.2 536.8 L1167.2 429.0 Q1167.2 426.8 1169.4 426.8 L1184.6 426.8 Q1186.8 426.8 1186.8 429.0 L1186.8 536.8 Z" fill="url(#gb)"/><path d="M457.8 536.8 L457.8 449.4 Q457.8 447.2 460.0 447.2 L475.2 447.2 Q477.4 447.2 477.4 449.4 L477.4 536.8 Z" fill="url(#gt)"/><path d="M530.9 536.8 L530.9 432.2 Q530.9 430.0 533.1 430.0 L548.3 430.0 Q550.5 430.0 550.5 432.2 L550.5 536.8 Z" fill="url(#gt)"/><path d="M604.0 536.8 L604.0 385.0 Q604.0 382.8 606.2 382.8 L621.4 382.8 Q623.6 382.8 623.6 385.0 L623.6 536.8 Z" fill="url(#gt)"/><path d="M677.1 536.8 L677.1 361.4 Q677.1 359.2 679.3 359.2 L694.5 359.2 Q696.7 359.2 696.7 361.4 L696.7 536.8 Z" fill="url(#gt)"/><path d="M750.2 536.8 L750.2 435.8 Q750.2 433.6 752.4 433.6 L767.6 433.6 Q769.8 433.6 769.8 435.8 L769.8 536.8 Z" fill="url(#gt)"/><path d="M823.3 536.8 L823.3 427.0 Q823.3 424.8 825.5 424.8 L840.7 424.8 Q842.9 424.8 842.9 427.0 L842.9 536.8 Z" fill="url(#gt)"/><path d="M896.4 536.8 L896.4 493.4 Q896.4 491.2 898.6 491.2 L913.8 491.2 Q916.0 491.2 916.0 493.4 L916.0 536.8 Z" fill="url(#gt)"/><path d="M969.5 536.8 L969.5 441.4 Q969.5 439.2 971.7 439.2 L986.9 439.2 Q989.1 439.2 989.1 441.4 L989.1 536.8 Z" fill="url(#gt)"/><path d="M1042.6 536.8 L1042.6 507.0 Q1042.6 504.8 1044.8 504.8 L1060.0 504.8 Q1062.2 504.8 1062.2 507.0 L1062.2 536.8 Z" fill="url(#gt)"/><path d="M1115.7 536.8 L1115.7 472.2 Q1115.7 470.0 1117.9 470.0 L1133.1 470.0 Q1135.3 470.0 1135.3 472.2 L1135.3 536.8 Z" fill="url(#gt)"/><path d="M1188.8 536.8 L1188.8 441.4 Q1188.8 439.2 1191.0 439.2 L1206.2 439.2 Q1208.4 439.2 1208.4 441.4 L1208.4 536.8 Z" fill="url(#gt)"/>
<g filter="url(#bl8)" opacity=".24" transform="translate(0,15)"><path d="M426 506 C444 482 462 462.8 484 462.8 C510 462.8 520 500 544 500 C578 500 588 372 618 372 C646 372 650 448.8 676 448.8 C706 448.8 714 397.2 744 397.2 C782 397.2 790 484 828 484 C852 484 860 464 884 464 C920 464 930 512 966 512 C1002 512 1008 438 1042 438 C1084 438 1094 483.5 1138 483.5 C1170 483.5 1182 432 1204 404" fill="none" stroke="#e8824a" stroke-width="13"/></g>
<g mask="url(#cm)"><path d="M426 506 C444 482 462 462.8 484 462.8 C510 462.8 520 500 544 500 C578 500 588 372 618 372 C646 372 650 448.8 676 448.8 C706 448.8 714 397.2 744 397.2 C782 397.2 790 484 828 484 C852 484 860 464 884 464 C920 464 930 512 966 512 C1002 512 1008 438 1042 438 C1084 438 1094 483.5 1138 483.5 C1170 483.5 1182 432 1204 404" fill="none" stroke="#f2955a" stroke-width="1.9" stroke-linecap="round"/></g>
<path d="M822 357 V379" stroke="#6f78aa" stroke-width="1.6" stroke-dasharray="7 3.5"/>
<path d="M822 379.4 V536.8" stroke="#9299be" stroke-width="1.6"/>
<path d="M822 383 V536.8" stroke="#fff" stroke-width="1.6" stroke-dasharray="7 3.6"/>
<circle cx="822" cy="483.2" r="3.6" fill="#fff" stroke="#f0884e" stroke-width="1.7"/>
</g>
</svg>
<div class="t" style="left:447.2px;top:557px;font-size:11.8px;color:#8e96ae;">Jan</div>
<div class="t" style="left:519.2px;top:557px;font-size:11.8px;color:#8e96ae;">Feb</div>
<div class="t" style="left:592.5px;top:557px;font-size:11.8px;color:#8e96ae;">Mar</div>
<div class="t" style="left:666.6px;top:557px;font-size:11.8px;color:#8e96ae;">Apr</div>
<div class="t" style="left:737.8px;top:557px;font-size:11.8px;color:#8e96ae;">May</div>
<div class="t" style="left:812.9px;top:557px;font-size:11.8px;color:#8e96ae;">Jun</div>
<div class="t" style="left:888.1px;top:557px;font-size:11.8px;color:#8e96ae;">Jul</div>
<div class="t" style="left:958.2px;top:557px;font-size:11.8px;color:#8e96ae;">Aug</div>
<div class="t" style="left:1030.9px;top:557px;font-size:11.8px;color:#8e96ae;">Sep</div>
<div class="t" style="left:1105.2px;top:557px;font-size:11.8px;color:#8e96ae;">Oct</div>
<div class="t" style="left:1177.4px;top:557px;font-size:11.8px;color:#8e96ae;">Nov</div>
<div class="a" style="left:751px;top:256px;width:143px;height:92.6px;border-radius:12px;background:#2f366b;box-shadow:0 6px 14px rgba(47,54,107,.22)"></div>
<svg style="left:814px;top:348px" width="16" height="9" viewBox="0 0 16 9"><path d="M1.6 0 H14.4 L8.8 7.2 Q8 8.2 7.2 7.2 Z" fill="#2f366b"/></svg>
<div class="t b" style="left:761.0px;top:268px;font-size:11.6px;color:#fff;letter-spacing:-0.34px;">Jun 2019</div>
<svg style="left:758px;top:285px" width="14" height="58" viewBox="758 285 14 58">
<circle cx="764.8" cy="292.3" r="3.6" fill="none" stroke="#1d86ff" stroke-width="1.9"/>
<circle cx="764.8" cy="313.7" r="3.6" fill="none" stroke="#19dccd" stroke-width="1.9"/>
<circle cx="764.8" cy="334.8" r="3.6" fill="none" stroke="#f08a52" stroke-width="1.9"/>
</svg>
<div class="t" style="left:778.5px;top:287px;font-size:12px;color:#c9cde4;letter-spacing:-0.11px;">5100 Admited Ptn</div>
<div class="t" style="left:778.5px;top:308px;font-size:12px;color:#c9cde4;letter-spacing:0.04px;">4500 Out Ptn</div>
<div class="t" style="left:778.5px;top:328px;font-size:12px;color:#c9cde4;letter-spacing:-0.29px;">2.5k Cost</div>
<div class="a" style="left:377px;top:606.5px;width:643px;height:320px;border-radius:14px;background:#fff;box-shadow:0 2px 10px rgba(205,212,236,.22)"></div>
<div class="a" style="left:1040px;top:606.5px;width:300px;height:320px;border-radius:14px;background:#fff;box-shadow:0 2px 10px rgba(205,212,236,.22)"></div>
<div class="t b" style="left:396.9px;top:629px;font-size:13.6px;color:#30366a;letter-spacing:-0.21px;">Hostpital Performasnce</div>
<div class="t b" style="left:708.2px;top:629px;font-size:13.6px;color:#30366a;letter-spacing:-0.13px;">Doctors Treatment Plan</div>
<div class="t b" style="left:1059.2px;top:629px;font-size:13.6px;color:#30366a;letter-spacing:-0.18px;">Man Power Per Division</div>
<svg style="left:0;top:0" width="1200" height="900" viewBox="0 0 1200 900">
<defs>
<linearGradient id="d1" gradientUnits="userSpaceOnUse" x1="0" y1="677" x2="0" y2="832"><stop offset="0" stop-color="#00a2ff"/><stop offset="1" stop-color="#0060ff"/></linearGradient>
<linearGradient id="d2" gradientUnits="userSpaceOnUse" x1="0" y1="775" x2="0" y2="852"><stop offset="0" stop-color="#93f4ef"/><stop offset=".55" stop-color="#3fe3d6"/><stop offset="1" stop-color="#0fd8c4"/></linearGradient>
<linearGradient id="d3" gradientUnits="userSpaceOnUse" x1="0" y1="700" x2="0" y2="780"><stop offset="0" stop-color="#b6aaf5"/><stop offset="1" stop-color="#8e84ee"/></linearGradient>
<linearGradient id="d4" gradientUnits="userSpaceOnUse" x1="490" y1="0" x2="532" y2="0"><stop offset="0" stop-color="#fb7d97"/><stop offset="1" stop-color="#fca7b7"/></linearGradient>
</defs>
<path d="M594.59 823.32 A81.7 81.7 0 0 1 450.66 778.49 L462.91 777.33 A69.4 69.4 0 0 0 585.16 815.41 Z" fill="url(#d2)"/>
<path d="M450.70 778.91 A81.7 81.7 0 0 1 491.40 699.90 L497.51 710.58 A69.4 69.4 0 0 0 462.94 777.69 Z" fill="url(#d3)"/>
<path d="M491.15 700.05 A81.7 81.7 0 0 1 532.00 689.10 L532.00 701.40 A69.4 69.4 0 0 0 497.30 710.70 Z" fill="url(#d4)"/>
<path d="M532.00 677.40 A93.4 93.4 0 0 1 602.81 831.71 L584.61 816.06 A69.4 69.4 0 0 0 532.00 701.40 Z" fill="url(#d1)"/>
<circle cx="447" cy="880" r="3.9" fill="#0a78ff"/>
<circle cx="569" cy="880" r="3.9" fill="#a596f0"/>
</svg>
<div class="t b" style="left:511.2px;top:755px;font-size:26.4px;color:#30366a;letter-spacing:2.82px;">47</div>
<div class="t b" style="left:543.9px;top:769px;font-size:9.6px;color:#4a4f80;letter-spacing:-1.1px;">%</div>
<div class="t" style="left:508.3px;top:788px;font-size:13.2px;color:#c3c9d8;letter-spacing:0.18px;">Exelent</div>
<div class="t" style="left:466.0px;top:875px;font-size:11.4px;color:#c3c9d8;letter-spacing:-0.09px;">Exelent<span style="color:#2e3267;font-weight:700">: 47%</span></div>
<div class="t" style="left:578.4px;top:875px;font-size:11.4px;color:#c3c9d8;letter-spacing:-0.32px;">Okay<span style="color:#2e3267;font-weight:700">: 16%</span></div>
<div class="t" style="left:708.2px;top:675px;font-size:13.9px;color:#c3c9d8;letter-spacing:-0.01px;">Strongly Agree</div>
<div class="t b" style="left:963.3px;top:675px;font-size:13.6px;color:#30366a;">28%</div>
<div class="a" style="left:708px;top:699.8px;width:282.4px;height:3px;border-radius:2px;background:#e9edf7"></div>
<div class="a" style="left:708px;top:699.8px;width:97.7px;height:3px;border-radius:2px;background:linear-gradient(90deg,#0064ff,#57b6fb);box-shadow:0 1px 3px rgba(40,130,255,.35)"></div>
<div class="t" style="left:708.2px;top:724px;font-size:13.9px;color:#c3c9d8;letter-spacing:-0.29px;">Agree</div>
<div class="t b" style="left:963.3px;top:724px;font-size:13.6px;color:#30366a;">33%</div>
<div class="a" style="left:708px;top:748.5px;width:282.4px;height:3px;border-radius:2px;background:#e9edf7"></div>
<div class="a" style="left:708px;top:748.5px;width:117.2px;height:3px;border-radius:2px;background:linear-gradient(90deg,#0064ff,#57b6fb);box-shadow:0 1px 3px rgba(40,130,255,.35)"></div>
<div class="t" style="left:707.2px;top:772px;font-size:13.9px;color:#c3c9d8;letter-spacing:0.41px;">Nutral</div>
<div class="t b" style="left:963.3px;top:772px;font-size:13.6px;color:#30366a;">61%</div>
<div class="a" style="left:708px;top:797.3px;width:282.4px;height:3px;border-radius:2px;background:#e9edf7"></div>
<div class="a" style="left:708px;top:797.3px;width:185.2px;height:3px;border-radius:2px;background:linear-gradient(90deg,#0064ff,#57b6fb);box-shadow:0 1px 3px rgba(40,130,255,.35)"></div>
<div class="t" style="left:707.2px;top:821px;font-size:13.9px;color:#c3c9d8;letter-spacing:-0.12px;">Disagree</div>
<div class="t b" style="left:963.3px;top:821px;font-size:13.6px;color:#30366a;">17%</div>
<div class="a" style="left:708px;top:846.0px;width:282.4px;height:3px;border-radius:2px;background:#e9edf7"></div>
<div class="a" style="left:708px;top:846.0px;width:49.1px;height:3px;border-radius:2px;background:linear-gradient(90deg,#0064ff,#57b6fb);box-shadow:0 1px 3px rgba(40,130,255,.35)"></div>
<div class="t" style="left:708.2px;top:870px;font-size:13.9px;color:#c3c9d8;letter-spacing:-0.04px;">Strongly Disagree</div>
<div class="t b" style="left:970.8px;top:870px;font-size:13.6px;color:#30366a;">8%</div>
<div class="a" style="left:708px;top:894.8px;width:282.4px;height:3px;border-radius:2px;background:#e9edf7"></div>
<div class="a" style="left:708px;top:894.8px;width:19.7px;height:3px;border-radius:2px;background:linear-gradient(90deg,#0064ff,#57b6fb);box-shadow:0 1px 3px rgba(40,130,255,.35)"></div>
<svg style="left:0;top:0" width="1200" height="900" viewBox="0 0 1200 900">
<defs><filter id="rb" x="-50%" y="-50%" width="200%" height="200%"><feGaussianBlur stdDeviation="7"/></filter></defs>
<circle cx="1195" cy="763" r="78" fill="none" stroke="#f0f2f9" stroke-width="1.5"/>
<circle cx="1195" cy="763" r="63" fill="none" stroke="#f0f2f8" stroke-width="1.1" stroke-dasharray="5 5"/>
<circle cx="1195" cy="763" r="47" fill="none" stroke="#f0f2f8" stroke-width="1.1" stroke-dasharray="5 5"/>
<circle cx="1195" cy="763" r="31" fill="none" stroke="#f0f2f8" stroke-width="1.1" stroke-dasharray="5 5"/>
<path d="M1195 763 L1195.0 685.0" stroke="#eef0f7" stroke-width="1"/><path d="M1195 763 L1134.0 714.4" stroke="#eef0f7" stroke-width="1"/><path d="M1195 763 L1119.0 780.4" stroke="#eef0f7" stroke-width="1"/><path d="M1195 763 L1161.2 833.3" stroke="#eef0f7" stroke-width="1"/><path d="M1195 763 L1228.8 833.3" stroke="#eef0f7" stroke-width="1"/><path d="M1195 763 L1271.0 780.4" stroke="#eef0f7" stroke-width="1"/><path d="M1195 763 L1256.0 714.4" stroke="#eef0f7" stroke-width="1"/>
<g filter="url(#rb)" opacity=".13"><path d="M1206 723 C1196 722 1188 719 1178.9 716.7 C1172 715 1166 713 1159.4 713 C1153 713 1148 716 1145.6 719.4 C1140 726 1136 733 1134.4 738.9 C1132 747 1131 754 1131.1 761.1 C1131 768 1131.5 774 1134.4 778.3 C1137 782.5 1141 784.2 1145.6 784.7 C1155 785.6 1165 784.6 1173.3 785.6 C1179 786.3 1183.5 788 1187.2 791.7 C1192 796.5 1196 802 1206 815 L1206 723 Z" fill="#59cfe6" transform="translate(0,8)"/><path d="M1206 699 C1198 699 1190 699.4 1184.4 701.4 C1177 704 1170 709.6 1165 715.3 C1159 722 1153.6 727.4 1151.1 732 C1149.2 735.6 1148.8 738.6 1149.7 741.7 C1151 746.4 1154.6 751.4 1158 757 C1161 762 1165 766.6 1166.4 772.2 C1168 779 1165.4 787.6 1166.4 794.4 C1167.2 799.6 1168.6 803.6 1172 807 C1176 811 1181 812.8 1187.2 814 C1192 815 1198 816.4 1206 816.8 L1206 699 Z" fill="#59c0f0" transform="translate(0,8)"/></g>
<path d="M1206 723 C1196 722 1188 719 1178.9 716.7 C1172 715 1166 713 1159.4 713 C1153 713 1148 716 1145.6 719.4 C1140 726 1136 733 1134.4 738.9 C1132 747 1131 754 1131.1 761.1 C1131 768 1131.5 774 1134.4 778.3 C1137 782.5 1141 784.2 1145.6 784.7 C1155 785.6 1165 784.6 1173.3 785.6 C1179 786.3 1183.5 788 1187.2 791.7 C1192 796.5 1196 802 1206 815 L1206 723 Z" fill="rgba(110,222,232,.12)"/>
<path d="M1206 699 C1198 699 1190 699.4 1184.4 701.4 C1177 704 1170 709.6 1165 715.3 C1159 722 1153.6 727.4 1151.1 732 C1149.2 735.6 1148.8 738.6 1149.7 741.7 C1151 746.4 1154.6 751.4 1158 757 C1161 762 1165 766.6 1166.4 772.2 C1168 779 1165.4 787.6 1166.4 794.4 C1167.2 799.6 1168.6 803.6 1172 807 C1176 811 1181 812.8 1187.2 814 C1192 815 1198 816.4 1206 816.8 L1206 699 Z" fill="rgba(120,205,240,.11)"/>
<path d="M1195 763 L1195.0 685.0" stroke="#eef0f7" stroke-width="1"/><path d="M1195 763 L1134.0 714.4" stroke="#eef0f7" stroke-width="1"/><path d="M1195 763 L1119.0 780.4" stroke="#eef0f7" stroke-width="1"/><path d="M1195 763 L1161.2 833.3" stroke="#eef0f7" stroke-width="1"/><path d="M1195 763 L1228.8 833.3" stroke="#eef0f7" stroke-width="1"/><path d="M1195 763 L1271.0 780.4" stroke="#eef0f7" stroke-width="1"/><path d="M1195 763 L1256.0 714.4" stroke="#eef0f7" stroke-width="1"/>
<path d="M1206 723 C1196 722 1188 719 1178.9 716.7 C1172 715 1166 713 1159.4 713 C1153 713 1148 716 1145.6 719.4 C1140 726 1136 733 1134.4 738.9 C1132 747 1131 754 1131.1 761.1 C1131 768 1131.5 774 1134.4 778.3 C1137 782.5 1141 784.2 1145.6 784.7 C1155 785.6 1165 784.6 1173.3 785.6 C1179 786.3 1183.5 788 1187.2 791.7 C1192 796.5 1196 802 1206 815 L1206 723 Z" fill="none" stroke="#25d8cd" stroke-width="1.4"/>
<path d="M1206 699 C1198 699 1190 699.4 1184.4 701.4 C1177 704 1170 709.6 1165 715.3 C1159 722 1153.6 727.4 1151.1 732 C1149.2 735.6 1148.8 738.6 1149.7 741.7 C1151 746.4 1154.6 751.4 1158 757 C1161 762 1165 766.6 1166.4 772.2 C1168 779 1165.4 787.6 1166.4 794.4 C1167.2 799.6 1168.6 803.6 1172 807 C1176 811 1181 812.8 1187.2 814 C1192 815 1198 816.4 1206 816.8 L1206 699 Z" fill="none" stroke="#2f8cff" stroke-width="1.4"/>
<circle cx="1195.0" cy="685.0" r="4.6" fill="#fff"/><circle cx="1195.0" cy="685.0" r="2" fill="#b4bbcd"/><circle cx="1134.0" cy="714.4" r="4.6" fill="#fff"/><circle cx="1134.0" cy="714.4" r="2" fill="#b4bbcd"/><circle cx="1119.0" cy="780.4" r="4.6" fill="#fff"/><circle cx="1119.0" cy="780.4" r="2" fill="#b4bbcd"/><circle cx="1161.2" cy="833.3" r="4.6" fill="#fff"/><circle cx="1161.2" cy="833.3" r="2" fill="#b4bbcd"/><circle cx="1228.8" cy="833.3" r="4.6" fill="#fff"/><circle cx="1228.8" cy="833.3" r="2" fill="#b4bbcd"/>
<circle cx="1088" cy="901.2" r="3.8" fill="#fff" stroke="#21d8cc" stroke-width="1.9"/>
<circle cx="1195.6" cy="901.2" r="3.8" fill="#fff" stroke="#2d8dff" stroke-width="1.9"/>
</svg>
<div class="t" style="left:1167.8px;top:664px;font-size:12.2px;color:#c3c9d8;">Cardiology</div>
<div class="t" style="left:1059.4px;top:704px;font-size:12.2px;color:#c3c9d8;letter-spacing:-0.11px;">Orthopedics</div>
<div class="t" style="left:1054.4px;top:774px;font-size:12.2px;color:#c3c9d8;letter-spacing:-0.19px;">Concology</div>
<div class="t" style="left:1102.9px;top:835px;font-size:12.2px;color:#c3c9d8;letter-spacing:-0.13px;">Nurology</div>
<div class="t" style="left:1102.6px;top:896px;font-size:12.4px;color:#30366a;letter-spacing:-0.21px;"># oo Doctors</div>
</body></html>
